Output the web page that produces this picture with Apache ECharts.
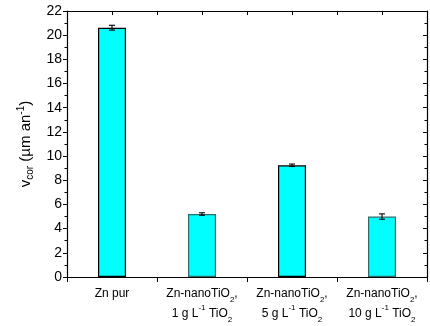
<!DOCTYPE html>
<html><head><meta charset="utf-8">
<script src="https://cdn.jsdelivr.net/npm/echarts@6/dist/echarts.min.js"></script>
<style>html,body{margin:0;padding:0;background:#fff}#c{width:430px;height:326px}</style>
</head><body><div id="c"></div>
<script>
const categories = ['Zn pur', 'Zn-nanoTiO2, 1 g L-1 TiO2', 'Zn-nanoTiO2, 5 g L-1 TiO2', 'Zn-nanoTiO2, 10 g L-1 TiO2'];
const categoryLabels = [
  'Zn pur',
  'Zn-nanoTiO{sub|2},\n1 g L{sup|-1} TiO{sub|2}',
  'Zn-nanoTiO{sub|2},\n5 g L{sup|-1} TiO{sub|2}',
  'Zn-nanoTiO{sub|2},\n10 g L{sup|-1} TiO{sub|2}'
];
const values = [20.62, 5.21, 9.24, 5.0];
const errors = [0.2, 0.1, 0.1, 0.22];
const yTicks = [0, 2, 4, 6, 8, 10, 12, 14, 16, 18, 20, 22];

const FONT = 'Liberation Sans, Arial, sans-serif';
const chart = echarts.init(document.getElementById('c'), null, {renderer: 'canvas'});
const borderColors = ['#000', '#2e6b6b', '#000', '#2e6b6b'];

chart.setOption({
  animation: false,
  grid: {left: 67, top: 11, right: 3, bottom: 49, containLabel: false},
  xAxis: [{
    type: 'category', data: categories, position: 'bottom',
    axisLine: {lineStyle: {color: '#000', width: 1.2}},
    axisTick: {show: true, inside: false, length: 5, lineStyle: {color: '#000'}},
    axisLabel: {
      interval: 0,
      color: '#000', fontFamily: FONT, fontSize: 12, margin: 7, lineHeight: 20,
      formatter: (v, i) => categoryLabels[i],
      rich: {
        sub: {fontSize: 8, verticalAlign: 'bottom', padding: [7, 0, 0, 0], fontFamily: FONT, color: '#000'},
        sup: {fontSize: 8, verticalAlign: 'top', padding: [0, 0, 7, 0], fontFamily: FONT, color: '#000'}
      }
    },
    splitLine: {show: false}
  }, {
    type: 'value', position: 'top', min: 0, max: 8, interval: 1,
    axisLine: {show: true, onZero: false, lineStyle: {color: '#000', width: 1.2}},
    axisTick: {show: true, inside: true, length: 4, lineStyle: {color: '#000'}},
    axisLabel: {show: false}, splitLine: {show: false}
  }],
  yAxis: [{
    type: 'value', min: yTicks[0], max: yTicks[yTicks.length - 1], interval: 2,
    name: 'v{sub|cor} (µm an{sup|-1})', nameLocation: 'middle', nameGap: 31, nameRotate: 90,
    nameTextStyle: {
      color: '#000', fontFamily: FONT, fontSize: 15,
      rich: {
        sub: {fontSize: 10, verticalAlign: 'bottom', padding: [9, 0, 0, 0], fontFamily: FONT, color: '#000'},
        sup: {fontSize: 10, verticalAlign: 'top', padding: [0, 0, 9, 0], fontFamily: FONT, color: '#000'}
      }
    },
    axisLine: {show: true, lineStyle: {color: '#000', width: 1.2}},
    axisTick: {show: true, inside: false, length: 4, lineStyle: {color: '#000'}},
    minorTick: {show: true, splitNumber: 2, length: 2.5, lineStyle: {color: '#000'}},
    axisLabel: {color: '#000', fontFamily: FONT, fontSize: 14, margin: 5},
    splitLine: {show: false}
  }, {
    type: 'value', position: 'right', min: yTicks[0], max: yTicks[yTicks.length - 1], interval: 2,
    axisLine: {show: true, lineStyle: {color: '#000', width: 1.2}},
    axisTick: {show: true, inside: true, length: 4, lineStyle: {color: '#000'}},
    minorTick: {show: true, splitNumber: 2, length: 2.5, lineStyle: {color: '#000'}},
    axisLabel: {show: false}, splitLine: {show: false}
  }],
  series: [{
    type: 'bar', xAxisIndex: 0, yAxisIndex: 0, barWidth: 28,
    data: values.map((v, i) => ({value: v, itemStyle: {color: '#00ffff', borderColor: borderColors[i], borderWidth: 1.2}})),
    z: 2
  }, {
    type: 'custom', xAxisIndex: 0, yAxisIndex: 0, z: 3,
    data: values.map((v, i) => [i, v - errors[i], v + errors[i]]),
    renderItem: function (params, api) {
      const x = api.value(0);
      const lo = api.coord([x, api.value(1)]);
      const hi = api.coord([x, api.value(2)]);
      const w = 3;
      const style = {stroke: '#000', lineWidth: 1.1};
      return {type: 'group', children: [
        {type: 'line', shape: {x1: lo[0], y1: lo[1], x2: hi[0], y2: hi[1]}, style},
        {type: 'line', shape: {x1: lo[0] - w, y1: lo[1], x2: lo[0] + w, y2: lo[1]}, style},
        {type: 'line', shape: {x1: hi[0] - w, y1: hi[1], x2: hi[0] + w, y2: hi[1]}, style}
      ]};
    }
  }]
});
</script></body></html>
